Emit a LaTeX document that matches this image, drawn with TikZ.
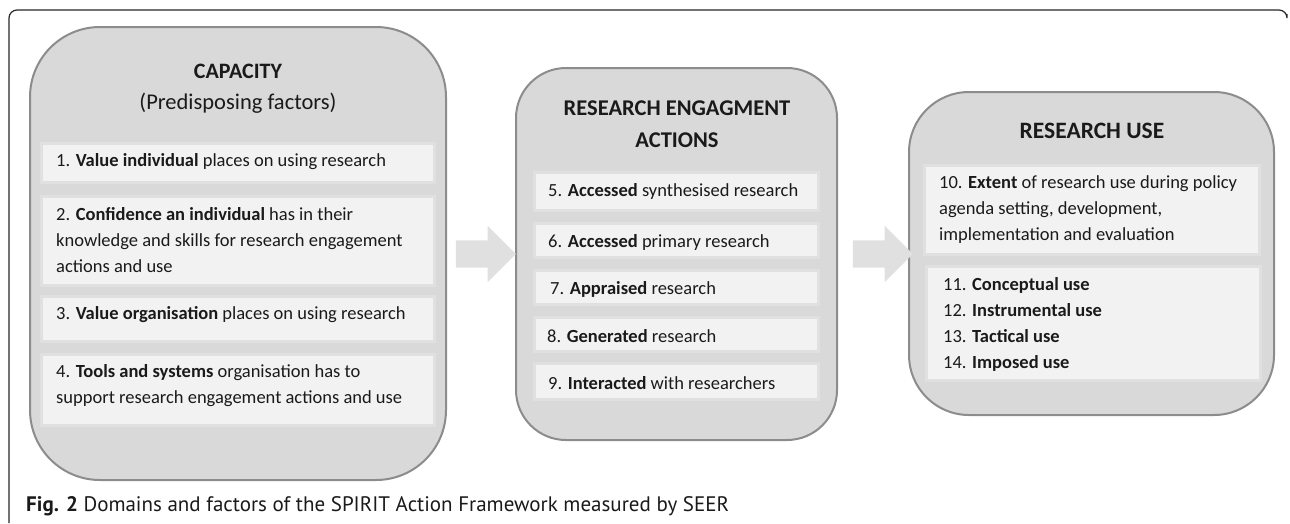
\documentclass[tikz,border=0pt]{standalone}
\usepackage{fontspec}
\setmainfont{Carlito}
\newfontfamily\capfont{PT Sans}
\usetikzlibrary{shapes.arrows}
\definecolor{boxfill}{HTML}{D9D9D9}
\definecolor{boxline}{HTML}{8C8C8C}
\definecolor{infill}{HTML}{F2F2F2}
\definecolor{inline}{HTML}{E0E0E0}
\definecolor{arrowc}{HTML}{E0E0E0}
\definecolor{txtc}{HTML}{1A1A1A}
\begin{document}
\begin{tikzpicture}[x=1pt,y=-1pt,
 bigbox/.style={draw=boxline, line width=2pt, fill=boxfill, inner sep=0pt},
 inbox/.style={draw=inline, line width=3pt, fill=infill, inner sep=0pt},
 body/.style={anchor=west, align=left, inner sep=0pt, font=\fontsize{18.5}{26}\selectfont, text=txtc},
 title/.style={align=center, inner sep=0pt, font=\fontsize{22.5}{32}\selectfont\bfseries, text=txtc},
 blockarrow/.style={single arrow, fill=arrowc, draw=none, inner xsep=0pt, inner ysep=13.5pt, minimum height=60pt, single arrow head extend=14.5pt}
]
\useasboundingbox (0,0) rectangle (1290,523);
\draw[line width=1.2pt, black!85, rounded corners=8pt] (9,523) -- (9,10) -- (1287,10) -- (1287,14);

% capacity
\node[bigbox, minimum width=416pt, minimum height=453pt, rounded corners=70pt] (cap) at (238,253.5) {};
\node[title, font=\fontsize{22}{32}\selectfont\bfseries] (capt) at (238,71) {CAPACITY};
\node[title, font=\fontsize{22.5}{26}\selectfont] (capst) at (238,103) {(Predisposing factors)};
\node[inbox, minimum width=393pt, minimum height=39pt] (b1) at (238,163) {};
\node[inbox, minimum width=393pt, minimum height=89pt] (b2) at (238,241) {};
\node[inbox, minimum width=393pt, minimum height=45pt] (b3) at (238,319) {};
\node[inbox, minimum width=393pt, minimum height=71pt] (b4) at (238,390) {};
\node[body] (t1) at (56,162) {1. \textbf{Value individual} places on using research};
\node[body] (t2) at (56,240) {2. \textbf{Confidence an individual} has in their\\knowledge and skills for research engagement\\actions and use};
\node[body] (t3) at (56,315) {3. \textbf{Value organisation} places on using research};
\node[body] (t4) at (56,386) {4. \textbf{Tools and systems} organisation has to\\support research engagement actions and use};

% research engagement actions
\node[bigbox, minimum width=321pt, minimum height=372pt, rounded corners=50pt] (rea) at (676.5,254) {};
\node[title] (reat) at (677,124) {RESEARCH ENGAGMENT\\ACTIONS};
\node[inbox, minimum width=284pt, minimum height=38pt] (b5) at (676.5,191.5) {};
\node[inbox, minimum width=284pt, minimum height=34pt] (b6) at (676.5,240.5) {};
\node[inbox, minimum width=284pt, minimum height=34pt] (b7) at (676.5,287.5) {};
\node[inbox, minimum width=284pt, minimum height=34pt] (b8) at (676.5,334.5) {};
\node[inbox, minimum width=284pt, minimum height=36pt] (b9) at (676.5,381.5) {};
\node[body] (t5) at (548,191) {5. \textbf{Accessed} synthesised research};
\node[body] (t6) at (548,242) {6. \textbf{Accessed} primary research};
\node[body] (t7) at (550,289) {7. \textbf{Appraised} research};
\node[body] (t8) at (547,336) {8. \textbf{Generated} research};
\node[body] (t9) at (548,383) {9. \textbf{Interacted} with researchers};

% research use
\node[bigbox, minimum width=365pt, minimum height=323pt, rounded corners=60pt] (ru) at (1091.5,253.5) {};
\node[title, font=\fontsize{23.5}{32}\selectfont\bfseries] (rut) at (1092,131) {RESEARCH USE};
\node[inbox, minimum width=335pt, minimum height=89pt] (b10) at (1092,210) {};
\node[inbox, minimum width=334pt, minimum height=114pt] (b11) at (1093.5,323.5) {};
\node[body] (t10) at (939,210) {10. \textbf{Extent} of research use during policy\\agenda setting, development,\\implementation and evaluation};
\node[body] (t11) at (943,324.5) {11. \textbf{Conceptual use}\\12. \textbf{Instrumental use}\\13. \textbf{Tactical use}\\14. \textbf{Imposed use}};

% arrows
\node[blockarrow] (a1) at (479,254) {};
\node[blockarrow] (a2) at (876,254) {};

% caption
\node[anchor=base west, inner sep=0pt, font=\capfont\fontsize{21}{24}\selectfont, text=txtc] (cap2) at (26,511) {\textbf{Fig. 2} Domains and factors of the SPIRIT Action Framework measured by SEER};
\end{tikzpicture}
\end{document}
